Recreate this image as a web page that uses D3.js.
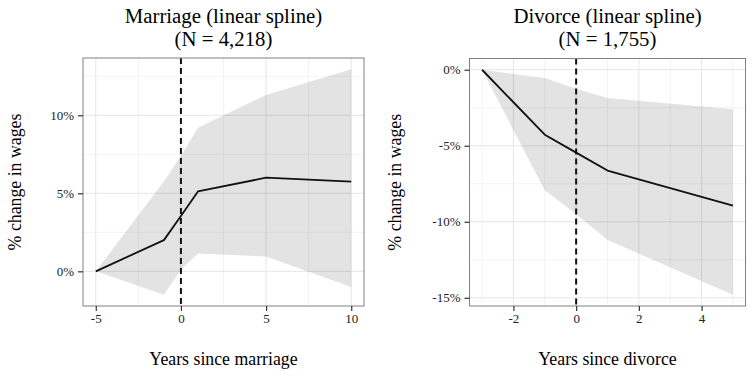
<!DOCTYPE html>
<meta charset="utf-8">
<script src="https://d3js.org/d3.v7.min.js"></script>
<style>
body { margin: 0; background: #fff; }
text { font-family: "Liberation Serif", "Times New Roman", serif; }
</style>
<body>
<div id="canvas"></div>
<script>

// dados (% de variacao do salario)
var marriageYears = [-5, -1, 0, 1, 5, 10];
var marriageEst   = [0, 2.0, 3.55, 5.12, 6.0, 5.75];
var marriageLower = [0, -1.5, 0.1, 1.15, 0.95, -1.0];
var marriageUpper = [0, 5.75, 7.4, 9.2, 11.3, 12.95];

var divorceYears = [-3, -1, 0, 1, 5];
var divorceEst   = [0, -4.27, -5.45, -6.63, -8.93];
var divorceLower = [0, -7.93, -9.5, -11.2, -14.8];
var divorceUpper = [0, -0.55, -1.25, -1.85, -2.6];

var marriageXTicks = [-5, 0, 5, 10];
var marriageYTicks = [0, 5, 10];
var divorceXTicks = [-2, 0, 2, 4];
var divorceYTicks = [0, -5, -10, -15];

var width = 754;
var height = 377;

var svg = d3.select('#canvas')
    .append("svg")
    .attr("width", width)
    .attr("height", height);

// expande o dominio 5% como no ggplot
function expanded(values) {
    var ext = d3.extent(values);
    var pad = (ext[1] - ext[0]) * 0.05;
    return [ext[0] - pad, ext[1] + pad];
}

// quebras menores: pontos medios entre as maiores, dentro do dominio
function minorBreaks(ticks, domain) {
    var sorted = ticks.slice().sort(d3.ascending);
    var step = sorted[1] - sorted[0];
    var out = [];
    for (var v = sorted[0] - step / 2; v <= domain[1]; v += step) {
        if (v >= domain[0] && sorted.indexOf(v) < 0) out.push(v);
    }
    return out;
}

function drawPanel(p) {
    var xDom = expanded(p.years);
    var yDom = expanded(p.lower.concat(p.upper));
    var x = d3.scaleLinear().domain(xDom).range([p.left, p.right]);
    var y = d3.scaleLinear().domain(yDom).range([p.bottom, p.top]);

    var g = svg.append("g");

    // grade menor
    g.selectAll(".minx").data(minorBreaks(p.xTicks, xDom)).enter().append("line")
        .attr("x1", function(d) { return x(d); }).attr("x2", function(d) { return x(d); })
        .attr("y1", p.top).attr("y2", p.bottom)
        .attr("stroke", "#f3f3f3").attr("stroke-width", 1);
    g.selectAll(".miny").data(minorBreaks(p.yTicks, yDom)).enter().append("line")
        .attr("y1", function(d) { return y(d); }).attr("y2", function(d) { return y(d); })
        .attr("x1", p.left).attr("x2", p.right)
        .attr("stroke", "#f3f3f3").attr("stroke-width", 1);
    // grade maior
    g.selectAll(".majx").data(p.xTicks).enter().append("line")
        .attr("x1", function(d) { return x(d); }).attr("x2", function(d) { return x(d); })
        .attr("y1", p.top).attr("y2", p.bottom)
        .attr("stroke", "#e6e6e6").attr("stroke-width", 1);
    g.selectAll(".majy").data(p.yTicks).enter().append("line")
        .attr("y1", function(d) { return y(d); }).attr("y2", function(d) { return y(d); })
        .attr("x1", p.left).attr("x2", p.right)
        .attr("stroke", "#e6e6e6").attr("stroke-width", 1);

    var rows = p.years.map(function(yr, i) {
        return { x: yr, est: p.est[i], lo: p.lower[i], hi: p.upper[i] };
    });

    // faixa de confianca
    var area = d3.area()
        .x(function(d) { return x(d.x); })
        .y0(function(d) { return y(d.lo); })
        .y1(function(d) { return y(d.hi); });
    g.append("path").datum(rows)
        .attr("d", area)
        .attr("fill", "#000")
        .attr("fill-opacity", 0.11);

    // linha estimada
    var line = d3.line()
        .x(function(d) { return x(d.x); })
        .y(function(d) { return y(d.est); });
    g.append("path").datum(rows)
        .attr("d", line)
        .attr("fill", "none")
        .attr("stroke", "#111")
        .attr("stroke-width", 1.8)
        .attr("stroke-linejoin", "round");

    // linha tracejada em zero
    g.append("line")
        .attr("x1", x(0)).attr("x2", x(0))
        .attr("y1", p.top).attr("y2", p.bottom)
        .attr("stroke", "#111")
        .attr("stroke-width", 2)
        .attr("stroke-dasharray", "6,4");

    // borda do painel
    g.append("rect")
        .attr("x", p.left).attr("y", p.top)
        .attr("width", p.right - p.left).attr("height", p.bottom - p.top)
        .attr("fill", "none")
        .attr("stroke", "#808080")
        .attr("stroke-width", 1);

    // eixos
    var xAxis = g.append("g")
        .attr("transform", "translate(0," + p.bottom + ")")
        .call(d3.axisBottom(x).tickValues(p.xTicks).tickSize(5).tickPadding(3)
            .tickFormat(function(d) { return d; }));
    var yAxis = g.append("g")
        .attr("transform", "translate(" + p.left + ",0)")
        .call(d3.axisLeft(y).tickValues(p.yTicks).tickSize(5).tickPadding(4)
            .tickFormat(function(d) { return d + "%"; }));
    [xAxis, yAxis].forEach(function(ax) {
        ax.select(".domain").remove();
        ax.selectAll(".tick line").attr("stroke", "#333").attr("stroke-width", 1.2);
        ax.selectAll(".tick text")
            .attr("fill", "#222")
            .style("font-family", '"Liberation Serif", serif')
            .style("font-size", "13px");
    });

    // titulos
    var cx = (p.left + p.right) / 2;
    g.append("text").attr("x", cx).attr("y", 23)
        .attr("text-anchor", "middle").style("font-size", "20.8px").attr("fill", "#000")
        .text(p.title);
    g.append("text").attr("x", cx).attr("y", 45.5)
        .attr("text-anchor", "middle").style("font-size", "20.8px").attr("fill", "#000")
        .text(p.subtitle);
    g.append("text").attr("x", cx).attr("y", 365)
        .attr("text-anchor", "middle").style("font-size", "17.8px").attr("fill", "#000")
        .text(p.xLabel);
    g.append("text")
        .attr("transform", "translate(" + p.yLabelX + "," + ((p.top + p.bottom) / 2) + ") rotate(-90)")
        .attr("text-anchor", "middle").style("font-size", "17.8px").attr("fill", "#000")
        .text("% change in wages");
}

drawPanel({
    years: marriageYears, est: marriageEst, lower: marriageLower, upper: marriageUpper,
    xTicks: marriageXTicks, yTicks: marriageYTicks,
    left: 83, right: 364, top: 58, bottom: 306, yLabelX: 21,
    title: "Marriage (linear spline)", subtitle: "(N = 4,218)",
    xLabel: "Years since marriage"
});

drawPanel({
    years: divorceYears, est: divorceEst, lower: divorceLower, upper: divorceUpper,
    xTicks: divorceXTicks, yTicks: divorceYTicks,
    left: 469.5, right: 745.5, top: 58.5, bottom: 306, yLabelX: 401,
    title: "Divorce (linear spline)", subtitle: "(N = 1,755)",
    xLabel: "Years since divorce"
});

</script>
</body>
